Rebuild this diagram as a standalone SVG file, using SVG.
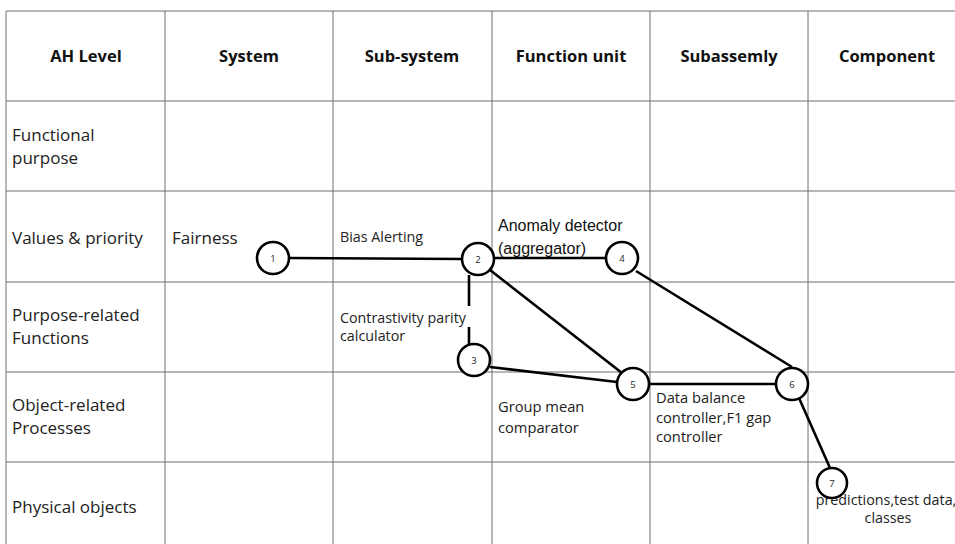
<svg xmlns="http://www.w3.org/2000/svg" width="955" height="544" viewBox="0 0 955 544">
  <style>
    .grid { stroke: #6e6e6e; stroke-width: 1; fill: none; }
    .hdr { font-family: "Open Sans", "Noto Sans", sans-serif; font-weight: bold; font-size: 16.5px; fill: #111; text-anchor: middle; }
    .lvl { font-family: "Open Sans", "Noto Sans", sans-serif; font-size: 17px; fill: #222; }
    .lbl { font-family: "Open Sans", "Noto Sans", sans-serif; font-size: 14.3px; fill: #222; }
    .lbl2 { font-family: "Open Sans", "Noto Sans", sans-serif; font-size: 14.7px; fill: #222; }
    .arial { font-family: "Liberation Sans", Arial, sans-serif; font-size: 16px; fill: #111; }
    .node circle { fill: #fff; stroke: #000; stroke-width: 2.6; }
    .node text { font-family: "Open Sans", "Noto Sans", sans-serif; font-size: 9.5px; fill: #222; text-anchor: middle; }
    .conn line { stroke: #000; stroke-width: 2.6; stroke-linecap: butt; }
  </style>

  <rect width="955" height="544" fill="#fff"/>

  <!-- table grid -->
  <g id="grid" class="grid">
    <line x1="6" y1="11" x2="966" y2="11"/>
    <line x1="6" y1="101" x2="966" y2="101"/>
    <line x1="6" y1="191" x2="966" y2="191"/>
    <line x1="6" y1="282" x2="966" y2="282"/>
    <line x1="6" y1="372" x2="966" y2="372"/>
    <line x1="6" y1="462" x2="966" y2="462"/>
    <line x1="6" y1="11" x2="6" y2="552"/>
    <line x1="165" y1="11" x2="165" y2="552"/>
    <line x1="333" y1="11" x2="333" y2="552"/>
    <line x1="492" y1="11" x2="492" y2="552"/>
    <line x1="650" y1="11" x2="650" y2="552"/>
    <line x1="808" y1="11" x2="808" y2="552"/>
  </g>

  <!-- column headers -->
  <g id="headers">
    <text class="hdr" x="86" y="62">AH Level</text>
    <text class="hdr" x="249" y="62">System</text>
    <text class="hdr" x="412" y="62">Sub-system</text>
    <text class="hdr" x="571" y="62">Function unit</text>
    <text class="hdr" x="729" y="62">Subassemly</text>
    <text class="hdr" x="887" y="62">Component</text>
  </g>

  <!-- abstraction levels -->
  <g id="levels">
    <text class="lvl" x="12" y="141">Functional</text>
    <text class="lvl" x="12" y="164">purpose</text>
    <text class="lvl" x="12" y="244">Values &amp; priority</text>
    <text class="lvl" x="12" y="321">Purpose-related</text>
    <text class="lvl" x="12" y="344">Functions</text>
    <text class="lvl" x="12" y="411">Object-related</text>
    <text class="lvl" x="12" y="434">Processes</text>
    <text class="lvl" x="12" y="513">Physical objects</text>
  </g>

  <!-- cell labels -->
  <g id="labels">
    <text class="lvl" x="172" y="244">Fairness</text>
    <text class="lbl" x="340" y="242">Bias Alerting</text>
    <text class="arial" x="498" y="231">Anomaly detector</text>
    <text class="arial" x="498" y="254">(aggregator)</text>
    <text class="lbl" x="340" y="323">Contrastivity parity</text>
    <text class="lbl" x="340" y="341">calculator</text>
    <text class="lbl2" x="498" y="412">Group mean</text>
    <text class="lbl2" x="498" y="433">comparator</text>
    <text class="lbl2" x="656" y="403">Data balance</text>
    <text class="lbl2" x="656" y="423">controller,F1 gap</text>
    <text class="lbl2" x="656" y="442">controller</text>
    <text class="lbl" x="886" y="505" text-anchor="middle">predictions,test data,</text>
    <text class="lbl" x="888" y="523" text-anchor="middle">classes</text>
  </g>

  <!-- connectors -->
  <g id="connectors" class="conn">
    <line x1="289" y1="258" x2="462" y2="259"/>
    <line x1="494" y1="258" x2="606" y2="258"/>
    <line x1="469" y1="275" x2="469" y2="306"/>
    <line x1="469" y1="327" x2="469" y2="344"/>
    <line x1="490" y1="270" x2="622" y2="373"/>
    <line x1="490" y1="367" x2="617" y2="382"/>
    <line x1="636" y1="271" x2="792" y2="367"/>
    <line x1="649" y1="384" x2="776" y2="384"/>
    <line x1="799" y1="398" x2="830" y2="468"/>
  </g>

  <!-- numbered nodes -->
  <g id="n1" class="node"><circle cx="273" cy="258" r="16"/><text x="273" y="262">1</text></g>
  <g id="n2" class="node"><circle cx="478" cy="259" r="16"/><text x="478" y="263">2</text></g>
  <g id="n3" class="node"><circle cx="474" cy="360" r="16"/><text x="474" y="364">3</text></g>
  <g id="n4" class="node"><circle cx="622" cy="258" r="16"/><text x="622" y="262">4</text></g>
  <g id="n5" class="node"><circle cx="633" cy="384" r="16"/><text x="633" y="388">5</text></g>
  <g id="n6" class="node"><circle cx="792" cy="384" r="16"/><text x="792" y="388">6</text></g>
  <g id="n7" class="node"><circle cx="832" cy="483" r="15"/><text x="832" y="487">7</text></g>
</svg>
